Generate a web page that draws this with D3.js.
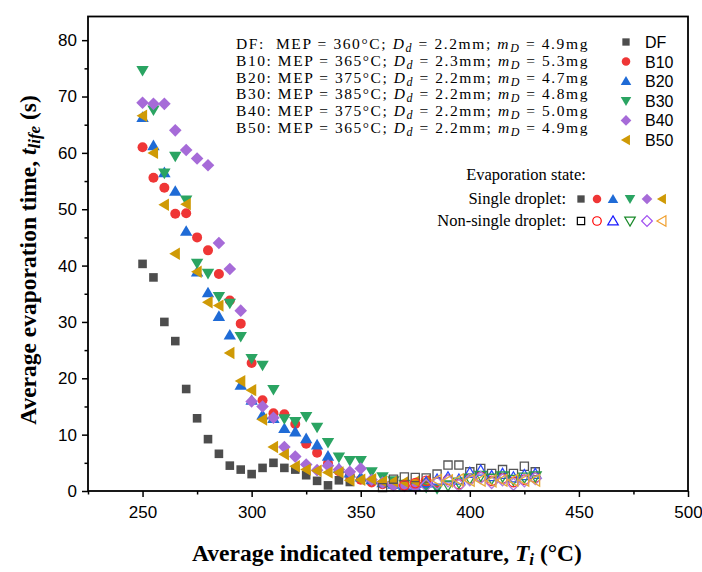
<!DOCTYPE html>
<html><head><meta charset="utf-8">
<script src="https://cdn.jsdelivr.net/npm/d3@7"></script>
<style>body{margin:0;background:#fff} svg{display:block}</style>
</head><body>
<svg id="c" width="702" height="572"></svg>
<script>
// ---- data ----
const seriesNames = ["DF","B10","B20","B30","B40","B50"];
const annotLines = [
  ["DF:\u00A0\u00A0MEP = 360°C; ", "2.2mm; ", "4.9mg"],
  ["B10: MEP = 365°C; ", "2.3mm; ", "5.3mg"],
  ["B20: MEP = 375°C; ", "2.2mm; ", "4.7mg"],
  ["B30: MEP = 385°C; ", "2.2mm; ", "4.8mg"],
  ["B40: MEP = 375°C; ", "2.2mm; ", "5.0mg"],
  ["B50: MEP = 365°C; ", "2.2mm; ", "4.9mg"]
];
const xMajor = [250,300,350,400,450,500];
const xMinor = [225,275,325,375,425,475];
const yMajor = [0,10,20,30,40,50,60,70,80];
const yMinor = [5,15,25,35,45,55,65,75];

const dfX  = [250,255,260,265,270,275,280,285,290,295,300,305,310,315,320,325,330,335,340,345];
const dfY  = [40.3,37.9,30.0,26.6,18.1,12.9,9.2,6.6,4.5,3.8,3.0,4.1,5.0,4.1,3.8,2.8,1.8,1.0,1.9,1.6];
const dfNX = [360,365,370,375,380,385,390,395,400,405,410,415,420,425,430];
const dfNY = [0.6,2.1,2.5,2.4,2.3,3.0,4.6,4.6,3.4,4.0,3.1,3.8,3.1,4.4,3.4];

const b10X  = [250,255,260,265,270,275,280,285,290,295,300,305,310,315,320,325,330,335,340,345,350,355,360,365];
const b10Y  = [61.0,55.6,53.8,49.2,49.3,45.0,42.7,38.5,33.8,29.7,22.7,16.1,13.8,13.6,11.9,8.4,6.8,4.9,3.5,2.8,2.0,1.5,1.2,1.0];
const b10NX = [370,375,380,385,390,395,400,405,410,415,420,425,430];
const b10NY = [1.0,1.4,1.8,1.6,2.0,1.2,2.2,2.5,1.8,2.2,1.6,2.0,2.4];

const b20X  = [250,255,260,265,270,275,280,285,290,295,300,305,310,315,320,325,330,335,340,345,350,355,360,365,370,375];
const b20Y  = [66.3,61.3,56.5,53.2,46.1,38.9,35.2,31.0,27.7,18.8,16.1,13.5,12.9,11.1,10.5,9.3,8.2,6.2,4.0,3.2,2.5,2.0,1.5,1.2,1.0,0.8];
const b20NX = [380,385,390,395,400,405,410,415,420,425,430];
const b20NY = [1.5,2.0,2.4,2.0,3.2,3.6,2.6,3.0,2.4,2.8,3.0];

const b30X  = [250,255,260,265,270,275,280,285,290,295,300,305,310,315,320,325,330,335,340,345,350,355,360,365,370,375,380,385];
const b30Y  = [74.6,67.6,56.4,59.4,51.6,40.4,38.6,34.5,33.3,27.4,23.5,22.3,18.0,12.8,12.3,13.2,11.3,8.6,6.0,5.4,5.4,3.4,2.5,1.8,1.2,0.8,0.6,0.4];
const b30NX = [390,395,400,405,410,415,420,425,430];
const b30NY = [1.0,1.5,2.2,2.7,2.2,2.6,2.0,2.4,2.6];

const b40X  = [250,255,260,265,270,275,280,285,290,295,300,305,310,315,320,325,330,335,340,345,350,355,360,365,370,375];
const b40Y  = [68.9,68.7,68.7,64.0,60.5,59.0,57.8,44.0,39.4,32.0,15.9,15.0,13.0,7.8,6.1,4.7,3.7,4.5,3.8,3.4,4.0,2.0,1.5,1.0,0.9,0.7];
const b40NX = [380,385,390,395,400,405,410,415,420,425,430];
const b40NY = [1.0,1.4,1.8,1.0,2.0,2.4,1.5,2.0,1.2,1.8,2.2];

const b50X  = [250,255,260,265,270,275,280,285,290,295,300,305,310,315,320,325,330,335,340,345,350,355,360,365,370,375,380];
const b50Y  = [66.6,60.0,50.8,42.1,50.9,38.9,33.5,32.9,24.5,19.5,17.9,12.7,7.8,6.5,4.4,3.8,3.6,3.3,3.3,1.9,2.0,2.1,1.7,1.7,1.6,1.7,1.9];
const b50NX = [385,390,395,400,405,410,415,420,425,430];
const b50NY = [1.9,1.8,2.0,1.9,1.9,1.8,1.9,1.9,1.9,1.9];

// ---- styling ----
const fills   = ["#4d4d4d","#ef3636","#1f6bd6","#2aa462","#a66bd8","#cf9a06"];
const hollowC = ["#555555","#ff2a2a","#2846ff","#2a9a48","#b07ae2","#e6a93a"];
const legHollowC = ["#000000","#ff0000","#1a1aff","#1a8a2a","#a050f0","#f0a030"];
const shapes  = ["square","circle","tri","itri","diamond","ltri"];

function shapePath(s, k) {
  k = k || 1;
  const p = d3.path();
  if (s === "square") { const h=4.3*k; p.rect(-h,-h,2*h,2*h); }
  else if (s === "circle") { p.arc(0,0,5*k,0,2*Math.PI); }
  else if (s === "tri") { p.moveTo(0,-6*k); p.lineTo(6.2*k,4.6*k); p.lineTo(-6.2*k,4.6*k); p.closePath(); }
  else if (s === "itri") { p.moveTo(0,6*k); p.lineTo(6.2*k,-4.6*k); p.lineTo(-6.2*k,-4.6*k); p.closePath(); }
  else if (s === "diamond") { p.moveTo(0,-6.3*k); p.lineTo(6.3*k,0); p.lineTo(0,6.3*k); p.lineTo(-6.3*k,0); p.closePath(); }
  else if (s === "ltri") { p.moveTo(-6*k,0); p.lineTo(4.6*k,-6.2*k); p.lineTo(4.6*k,6.2*k); p.closePath(); }
  return p.toString();
}

const svg = d3.select("#c");
const X0=88, X1=688, Y0=491, Y1=16.5;
const x = d3.scaleLinear().domain([225,500]).range([X0,X1]);
const y = d3.scaleLinear().domain([0,84.2]).range([Y0,Y1]);

const singles = [[dfX,dfY],[b10X,b10Y],[b20X,b20Y],[b30X,b30Y],[b40X,b40Y],[b50X,b50Y]];
const hollows = [[dfNX,dfNY],[b10NX,b10NY],[b20NX,b20NY],[b30NX,b30NY],[b40NX,b40NY],[b50NX,b50NY]];

const plot = svg.append("g");
singles.forEach((s,i) => {
  plot.append("g").selectAll("path").data(s[0].map((v,j)=>[v,s[1][j]])).join("path")
    .attr("transform", d=>`translate(${x(d[0])},${y(d[1])})`)
    .attr("d", shapePath(shapes[i]))
    .attr("fill", fills[i]);
});
hollows.forEach((s,i) => {
  plot.append("g").selectAll("path").data(s[0].map((v,j)=>[v,s[1][j]])).join("path")
    .attr("transform", d=>`translate(${x(d[0])},${y(d[1])})`)
    .attr("d", shapePath(shapes[i], 0.95))
    .attr("fill", "none").attr("stroke", hollowC[i]).attr("stroke-width", 1.3);
});

// ---- axes ----
const tickFont = "'Liberation Sans', Arial, sans-serif";
function styleAxis(g){ g.select(".domain").remove(); g.selectAll("line").attr("stroke","#000").attr("stroke-width",1.5);
  g.selectAll("text").attr("font-family",tickFont).attr("font-size",17).attr("fill","#000"); }
svg.append("g").attr("transform",`translate(0,${Y0})`)
  .call(d3.axisBottom(x).tickValues(xMajor).tickSize(6).tickPadding(9).tickFormat(d3.format("d"))).call(styleAxis);
svg.append("g").attr("transform",`translate(0,${Y0})`)
  .call(d3.axisBottom(x).tickValues(xMinor).tickSize(3.5).tickFormat("")).call(styleAxis);
svg.append("g").attr("transform",`translate(${X0},0)`)
  .call(d3.axisLeft(y).tickValues(yMajor).tickSize(6).tickPadding(5).tickFormat(d3.format("d"))).call(styleAxis);
svg.append("g").attr("transform",`translate(${X0},0)`)
  .call(d3.axisLeft(y).tickValues(yMinor).tickSize(3.5).tickFormat("")).call(styleAxis);
svg.append("rect").attr("x",X0).attr("y",Y1).attr("width",X1-X0).attr("height",Y0-Y1)
  .attr("fill","none").attr("stroke","#000").attr("stroke-width",1.8);

// ---- axis titles ----
const serif = "'Liberation Serif', 'Times New Roman', serif";
const xt = svg.append("text").attr("x",(X0+X1)/2 - 1).attr("y",561).attr("text-anchor","middle")
  .attr("font-family",serif).attr("font-size",23.5).attr("font-weight","bold");
xt.append("tspan").text("Average indicated temperature, ");
xt.append("tspan").attr("font-style","italic").text("T");
xt.append("tspan").attr("font-style","italic").attr("font-size",17).attr("dy",4).text("i");
xt.append("tspan").attr("dy",-4).text(" (°C)");

const yt = svg.append("text").attr("transform",`translate(36,${260}) rotate(-90)`).attr("text-anchor","middle")
  .attr("font-family",serif).attr("font-size",23.5).attr("font-weight","bold");
yt.append("tspan").text("Average evaporation time, ");
yt.append("tspan").attr("font-style","italic").text("t");
yt.append("tspan").attr("font-style","italic").attr("font-size",17).attr("dy",4).text("life");
yt.append("tspan").attr("dy",-4).text(" (s)");

// ---- annotation block ----
const annot = svg.append("g").attr("font-family",serif).attr("font-size",15.5).attr("fill","#000");
annotLines.forEach((l,i) => {
  const t = annot.append("text").attr("x",236).attr("y",49 + i*16.8);
  t.append("tspan").text(l[0]);
  t.append("tspan").attr("font-style","italic").text("D");
  t.append("tspan").attr("font-style","italic").attr("font-size",12).attr("dy",3).text("d");
  t.append("tspan").attr("dy",-3).text(" = " + l[1]);
  t.append("tspan").attr("font-style","italic").text("m");
  t.append("tspan").attr("font-style","italic").attr("font-size",12).attr("dy",3).text("D");
  t.append("tspan").attr("dy",-3).text(" = " + l[2]);
});
// stretch to reference width
annot.selectAll("text").each(function(){
  const w = this.getComputedTextLength();
  const n = this.textContent.length;
  const target = 353;
  d3.select(this).attr("letter-spacing", ((target - w)/n).toFixed(3));
});

// ---- series legend ----
const leg = svg.append("g");
seriesNames.forEach((n,i) => {
  const yy = 42 + i*19.6;
  leg.append("path").attr("transform",`translate(626,${yy})`).attr("d",shapePath(shapes[i],0.85)).attr("fill",fills[i]);
  leg.append("text").attr("x",645).attr("y",yy+6).attr("font-family",tickFont).attr("font-size",16).text(n);
});

// ---- evaporation state legend ----
const ev = svg.append("g").attr("font-family",serif).attr("font-size",16.5).attr("fill","#000");
ev.append("text").attr("x",526).attr("y",180).attr("text-anchor","middle").text("Evaporation state:");
ev.append("text").attr("x",566).attr("y",204).attr("text-anchor","end").text("Single droplet:");
ev.append("text").attr("x",566).attr("y",226).attr("text-anchor","end").text("Non-single droplet:");
const mx = [581,597,613,630,647,662];
seriesNames.forEach((n,i) => {
  ev.append("path").attr("transform",`translate(${mx[i]},199)`).attr("d",shapePath(shapes[i],0.85)).attr("fill",fills[i]);
  ev.append("path").attr("transform",`translate(${mx[i]},221)`).attr("d",shapePath(shapes[i],0.85))
    .attr("fill","none").attr("stroke",legHollowC[i]).attr("stroke-width",1.2);
});
</script>
</body></html>
